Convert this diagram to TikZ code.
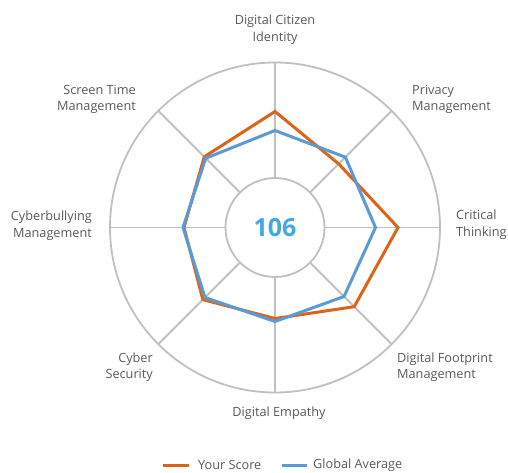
\documentclass[tikz,border=0pt]{standalone}
\usepackage{fontspec}
\setmainfont{Open Sans}
\definecolor{gridc}{HTML}{C0C0C0}
\definecolor{labc}{HTML}{595959}
\definecolor{orangec}{HTML}{DC6419}
\definecolor{bluec}{HTML}{5B9BD5}
\definecolor{numc}{HTML}{45A9E1}
\begin{document}
\begin{tikzpicture}[x=1pt,y=1pt,
  grid/.style={draw=gridc,line width=1.8pt},
  series/.style={line width=3pt,line join=miter},
  lab/.style={text=labc,font=\fontsize{12.7}{16.5}\selectfont,inner sep=0pt},
  legline/.style={line width=3pt}]
\useasboundingbox (0,-472) rectangle (508,0);
\begin{scope}[shift={(275,-227.5)}]
  \draw[grid] (0,0) circle[radius=165];
  \draw[grid] (0,0) circle[radius=49.5];
  \foreach \a in {0,45,...,315}
    \draw[grid] (\a:49.5) -- (\a:165);
  \draw[series,draw=orangec] (90:116) -- (45:90) -- (0:123) -- (-45:112) -- (-90:91) -- (-135:102) -- (180:91) -- (135:100) -- cycle;
  \draw[series,draw=bluec] (90:97) -- (45:99.5) -- (0:100.5) -- (-45:97.6) -- (-90:94) -- (-135:99) -- (180:92) -- (135:98) -- cycle;
  \node[text=numc,font=\bfseries\fontsize{25}{25}\selectfont,inner sep=0pt] (score) at (0,0) {106};
\end{scope}
\node[lab,align=center] (l1) at (275,-29.5) {Digital Citizen\\Identity};
\node[lab,align=left,anchor=west] (l2) at (412,-99.5) {Privacy\\Management};
\node[lab,align=left,anchor=west] (l3) at (456,-224.5) {Critical\\Thinking};
\node[lab,align=left,anchor=west] (l4) at (397,-367) {Digital Footprint\\Management};
\node[lab] (l5) at (279,-413) {Digital Empathy};
\node[lab,align=right,anchor=east] (l6) at (153,-367) {Cyber\\Security};
\node[lab,align=right,anchor=east] (l7) at (92,-225.5) {Cyberbullying\\Management};
\node[lab,align=right,anchor=east] (l8) at (136,-99.5) {Screen Time\\Management};
\coordinate (o1) at (163,-465);
\coordinate (o2) at (189,-465);
\coordinate (b1) at (282,-465);
\coordinate (b2) at (307,-465);
\draw[legline,draw=orangec] (o1) -- (o2);
\draw[legline,draw=bluec] (b1) -- (b2);
\node[lab,anchor=west] (ly) at (198,-465) {Your Score};
\node[lab,anchor=west] (lg) at (313,-465) {Global Average};
\end{tikzpicture}
\end{document}
